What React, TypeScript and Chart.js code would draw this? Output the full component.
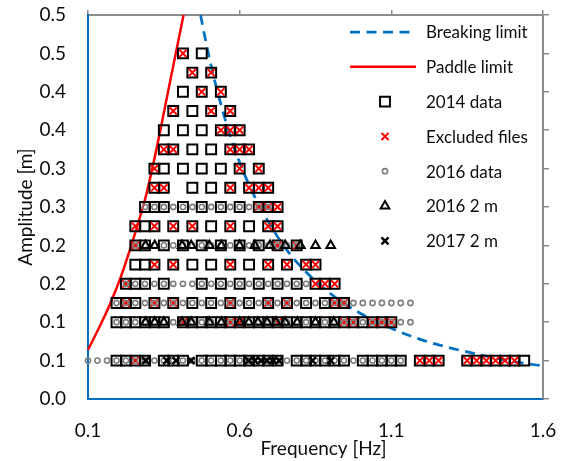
import { useEffect, useRef } from 'react';
import { Chart, registerables } from 'chart.js';

Chart.register(...registerables);

// ---- text ----
const X_TITLE = 'Frequency [Hz]';
const Y_TITLE = 'Amplitude [m]';
const xTickLabels = ['0.1', '0.6', '1.1', '1.6'];
const yTickLabels = ['0.0', '0.1', '0.1', '0.2', '0.2', '0.3', '0.3', '0.4', '0.4', '0.5', '0.5'];

// ---- limit curves: frequency [Hz] vs amplitude [m] ----
const breakingFreq = [0.471, 0.5, 0.55, 0.6, 0.65, 0.7, 0.75, 0.8, 0.9, 1.0, 1.1, 1.2, 1.3, 1.4, 1.5, 1.6];
const breakingAmp = [0.5, 0.444, 0.367, 0.308, 0.263, 0.227, 0.197, 0.173, 0.137, 0.111, 0.092, 0.077, 0.066, 0.057, 0.049, 0.043];

const paddleFreq = [0.1, 0.138, 0.171, 0.21, 0.253, 0.292, 0.325, 0.37, 0.415];
const paddleAmp = [0.064, 0.094, 0.122, 0.161, 0.213, 0.266, 0.324, 0.412, 0.5];

// ---- test runs: [amplitude m, frequencies Hz] ----
const runs2014: [number, number[]][] = [
  [0.45, [0.413, 0.475]],
  [0.425, [0.444, 0.506]],
  [0.4, [0.413, 0.475, 0.538]],
  [0.375, [0.381, 0.444, 0.506, 0.569]],
  [0.35, [0.35, 0.413, 0.475, 0.538, 0.569, 0.6]],
  [0.325, [0.35, 0.381, 0.444, 0.506, 0.569, 0.6, 0.631]],
  [0.3, [0.319, 0.35, 0.413, 0.475, 0.538, 0.6, 0.663]],
  [0.275, [0.319, 0.35, 0.444, 0.506, 0.569, 0.631, 0.663, 0.694]],
  [0.25, [0.288, 0.319, 0.35, 0.413, 0.475, 0.538, 0.6, 0.663, 0.694, 0.725]],
  [0.225, [0.256, 0.288, 0.319, 0.381, 0.444, 0.506, 0.569, 0.631, 0.694, 0.725]],
  [0.2, [0.256, 0.288, 0.35, 0.413, 0.475, 0.538, 0.6, 0.663, 0.725, 0.788]],
  [0.175, [0.256, 0.288, 0.319, 0.381, 0.444, 0.506, 0.569, 0.631, 0.694, 0.756, 0.819, 0.85]],
  [0.15, [0.225, 0.256, 0.288, 0.35, 0.475, 0.538, 0.6, 0.663, 0.725, 0.788, 0.85, 0.881, 0.913]],
  [0.125, [0.194, 0.225, 0.256, 0.319, 0.381, 0.444, 0.506, 0.569, 0.631, 0.694, 0.756, 0.819, 0.881, 0.913, 0.944]],
  [0.1, [0.194, 0.225, 0.256, 0.288, 0.319, 0.35, 0.413, 0.444, 0.475, 0.506, 0.538, 0.569, 0.6, 0.631, 0.663, 0.694,
    0.725, 0.756, 0.788, 0.819, 0.85, 0.881, 0.913, 0.944, 0.975, 1.006, 1.038, 1.069, 1.1]],
  [0.05, [0.194, 0.225, 0.256, 0.288, 0.35, 0.381, 0.413, 0.475, 0.506, 0.538, 0.569, 0.6, 0.631, 0.663, 0.694, 0.725,
    0.788, 0.819, 0.85, 0.881, 0.913, 0.944, 1.006, 1.038, 1.069, 1.1, 1.131, 1.194, 1.225, 1.256,
    1.35, 1.381, 1.413, 1.444, 1.475, 1.506, 1.538]],
];

const excludedRuns: [number, number[]][] = [
  [0.45, [0.413]],
  [0.425, [0.444, 0.506]],
  [0.4, [0.475, 0.538]],
  [0.375, [0.381, 0.506, 0.569]],
  [0.35, [0.538, 0.569, 0.6]],
  [0.325, [0.35, 0.381, 0.569, 0.6, 0.631]],
  [0.3, [0.319, 0.6, 0.663]],
  [0.275, [0.319, 0.35, 0.569, 0.631, 0.663, 0.694]],
  [0.25, [0.663, 0.694, 0.725]],
  [0.225, [0.256, 0.319, 0.381, 0.444, 0.569, 0.694, 0.725]],
  [0.2, [0.256, 0.725, 0.788]],
  [0.175, [0.319, 0.381, 0.569, 0.694, 0.756, 0.819, 0.85]],
  [0.15, [0.225, 0.85, 0.881, 0.913]],
  [0.125, [0.225, 0.319, 0.381, 0.569, 0.694, 0.756, 0.913, 0.944]],
  [0.1, [0.413, 0.569, 0.6, 0.725, 0.944, 0.975, 1.038, 1.069, 1.1]],
  [0.05, [0.256, 1.194, 1.225, 1.256, 1.35, 1.381, 1.413, 1.444, 1.475, 1.506]],
];

const runs2016: [number, number[]][] = [
  [0.25, [0.288, 0.319, 0.35, 0.381, 0.413, 0.444, 0.475, 0.506, 0.538, 0.569, 0.6, 0.631, 0.663, 0.694]],
  [0.2, [0.256, 0.288, 0.319, 0.35, 0.381, 0.413, 0.444, 0.475, 0.506, 0.538, 0.569, 0.6, 0.631, 0.663, 0.694,
    0.725, 0.756, 0.788]],
  [0.15, [0.225, 0.256, 0.288, 0.319, 0.35, 0.381, 0.413, 0.444, 0.475, 0.506, 0.538, 0.569, 0.6, 0.631, 0.663,
    0.694, 0.725, 0.756, 0.788, 0.819]],
  [0.125, [0.194, 0.225, 0.256, 0.288, 0.319, 0.35, 0.381, 0.413, 0.444, 0.475, 0.506, 0.538, 0.569, 0.6, 0.631,
    0.663, 0.694, 0.725, 0.756, 0.788, 0.819, 0.85, 0.881, 0.913, 0.944, 0.975, 1.006, 1.038, 1.069, 1.1, 1.131, 1.163]],
  [0.1, [0.194, 0.225, 0.256, 0.288, 0.319, 0.35, 0.381, 0.413, 0.444, 0.475, 0.506, 0.538, 0.569, 0.6, 0.631,
    0.663, 0.694, 0.725, 0.756, 0.788, 0.819, 0.85, 0.881, 0.913, 0.944, 0.975, 1.006, 1.038, 1.069, 1.1, 1.131, 1.163]],
  [0.05, [0.1, 0.131, 0.163, 0.194, 0.225, 0.256, 0.288, 0.319, 0.35, 0.381, 0.413, 0.444, 0.475, 0.506, 0.538,
    0.569, 0.6, 0.631, 0.663, 0.694, 0.725, 0.756, 0.788, 0.819, 0.85, 0.881, 0.913, 0.944, 0.975, 1.006, 1.038,
    1.069, 1.1, 1.131]],
];

const runs2016TwoMetre: [number, number[]][] = [
  [0.2, [0.29, 0.32, 0.41, 0.44, 0.5, 0.54, 0.6, 0.65, 0.7, 0.75, 0.8, 0.85, 0.9]],
  [0.1, [0.29, 0.32, 0.35, 0.41, 0.44, 0.5, 0.54, 0.6, 0.63, 0.66, 0.69, 0.72, 0.75, 0.79, 0.85, 0.91]],
];

const runs2017TwoMetre: [number, number[]][] = [
  [0.05, [0.29, 0.36, 0.39, 0.44, 0.63, 0.65, 0.67, 0.69, 0.71, 0.73, 0.84, 0.9]],
];

// ---- styling ----
const BLUE = '#0070C0';
const RED = '#FF0000';
const AXIS_GREY = '#8C8C8C';
const TEXT = '#0d0d0d';
const FONT_FAMILY = 'Lato, "Open Sans", "DejaVu Sans", sans-serif';
const AXIS_FONT_SIZE = 19;
const LEGEND_FONT_SIZE = 17;

const toPoints = (rows: [number, number[]][]) =>
  rows.flatMap(([amp, freqs]) => freqs.map((f) => ({ x: f, y: amp })));
const toCurve = (xs: number[], ys: number[]) => xs.map((x, i) => ({ x, y: ys[i] }));

// Fix a scale's thickness and stop its labels from pushing the plot area inwards.
const fixSize = (prop: 'width' | 'height', size: number) => (s: any) => {
  s[prop] = size;
  s.paddingTop = 0;
  s.paddingBottom = 0;
  s.paddingLeft = 0;
  s.paddingRight = 0;
};

function strokeMarker(ctx: CanvasRenderingContext2D, style: string, x: number, y: number, r: number) {
  ctx.beginPath();
  if (style === 'rect') {
    const h = r * Math.SQRT1_2;
    ctx.rect(x - h, y - h, 2 * h, 2 * h);
  } else if (style === 'crossRot') {
    const h = r * Math.SQRT1_2;
    ctx.moveTo(x - h, y - h);
    ctx.lineTo(x + h, y + h);
    ctx.moveTo(x - h, y + h);
    ctx.lineTo(x + h, y - h);
  } else if (style === 'circle') {
    ctx.arc(x, y, r, 0, Math.PI * 2);
  } else if (style === 'triangle') {
    const a = (2 * Math.PI) / 3;
    ctx.moveTo(x, y - r);
    ctx.lineTo(x + Math.sin(a) * r, y - Math.cos(a) * r);
    ctx.lineTo(x + Math.sin(2 * a) * r, y - Math.cos(2 * a) * r);
    ctx.closePath();
  }
  ctx.stroke();
}

// Legend sits inside the plot, in its upper-right corner.
const legendPlugin = {
  id: 'insideLegend',
  afterDraw(chart: any) {
    const ctx: CanvasRenderingContext2D = chart.ctx;
    const lineStart = 350;
    const lineEnd = 416;
    const markerX = 385;
    const textX = 426;
    const top = 32;
    const rowGap = 34.8;
    ctx.save();
    ctx.font = `${LEGEND_FONT_SIZE}px ${FONT_FAMILY}`;
    ctx.textBaseline = 'middle';
    ctx.textAlign = 'left';
    chart.data.datasets.forEach((ds: any, i: number) => {
      const y = top + i * rowGap;
      ctx.strokeStyle = ds.borderColor;
      ctx.lineWidth = ds.borderWidth;
      if (ds.showLine) {
        ctx.setLineDash(ds.borderDash || []);
        ctx.beginPath();
        ctx.moveTo(lineStart, y);
        ctx.lineTo(lineEnd, y);
        ctx.stroke();
        ctx.setLineDash([]);
      } else {
        strokeMarker(ctx, ds.pointStyle, markerX, y, ds.pointRadius);
      }
      ctx.fillStyle = TEXT;
      ctx.fillText(ds.label, textX, y + 1);
    });
    ctx.restore();
  },
};

const axisTitlePlugin = {
  id: 'axisTitles',
  afterDraw(chart: any) {
    const ctx: CanvasRenderingContext2D = chart.ctx;
    const area = chart.chartArea;
    ctx.save();
    ctx.font = `${AXIS_FONT_SIZE}px ${FONT_FAMILY}`;
    ctx.fillStyle = TEXT;
    ctx.textAlign = 'center';
    ctx.textBaseline = 'middle';
    ctx.fillText(X_TITLE, (area.left + area.right) / 2 + 8, 449);
    ctx.translate(26, (area.top + area.bottom) / 2);
    ctx.rotate(-Math.PI / 2);
    ctx.fillText(Y_TITLE, 0, 0);
    ctx.restore();
  },
};

export default function App() {
  const canvasRef = useRef<HTMLCanvasElement | null>(null);

  useEffect(() => {
    const canvas = canvasRef.current;
    if (!canvas) return;
    const font = { family: FONT_FAMILY, size: AXIS_FONT_SIZE };

    const pointSet = (label: string, rows: [number, number[]][], style: string, radius: number,
      color: string, width: number, order: number) => ({
      label,
      data: toPoints(rows),
      showLine: false,
      pointStyle: style,
      pointRadius: radius,
      pointHoverRadius: radius,
      borderColor: color,
      backgroundColor: 'rgba(0,0,0,0)',
      borderWidth: width,
      clip: false as const,
      order,
    });

    const chart = new Chart(canvas, {
      type: 'scatter',
      data: {
        datasets: [
          {
            label: 'Breaking limit',
            data: toCurve(breakingFreq, breakingAmp),
            showLine: true,
            borderColor: BLUE,
            backgroundColor: BLUE,
            borderWidth: 2.75,
            borderDash: [10, 6.5],
            pointRadius: 0,
            cubicInterpolationMode: 'monotone',
            clip: 2,
            order: 7,
          } as any,
          {
            label: 'Paddle limit',
            data: toCurve(paddleFreq, paddleAmp),
            showLine: true,
            borderColor: RED,
            backgroundColor: RED,
            borderWidth: 2.5,
            pointRadius: 0,
            cubicInterpolationMode: 'monotone',
            clip: 2,
            order: 6,
          } as any,
          pointSet('2014 data', runs2014, 'rect', 7, '#000000', 2, 5),
          pointSet('Excluded files', excludedRuns, 'crossRot', 5, RED, 2, 4),
          pointSet('2016 data', runs2016, 'circle', 2.6, '#7F7F7F', 1.6, 3),
          pointSet('2016 2 m', runs2016TwoMetre, 'triangle', 5, '#000000', 2, 2),
          pointSet('2017 2 m', runs2017TwoMetre, 'crossRot', 5, '#000000', 2.5, 1),
        ] as any,
      },
      options: {
        animation: false,
        responsive: false,
        maintainAspectRatio: false,
        devicePixelRatio: 1,
        events: [],
        layout: { padding: 0, autoPadding: false },
        plugins: {
          legend: { display: false },
          tooltip: { enabled: false },
        },
        scales: {
          x: {
            type: 'linear',
            position: 'bottom',
            min: 0.1,
            max: 1.6,
            afterFit: fixSize('height', 62),
            ticks: {
              stepSize: 0.5,
              padding: 20,
              color: TEXT,
              font,
              autoSkip: false,
              maxRotation: 0,
              callback: (_v: any, i: number) => xTickLabels[i] ?? '',
            },
            grid: { display: false, drawTicks: false },
            border: { display: true, color: BLUE, width: 2 },
          },
          xTop: {
            type: 'linear',
            position: 'top',
            min: 0.1,
            max: 1.6,
            afterFit: fixSize('height', 15),
            ticks: { display: false, stepSize: 0.5 },
            grid: { display: true, drawOnChartArea: false, drawTicks: true, tickLength: 5, color: AXIS_GREY, lineWidth: 1.5 },
            border: { display: true, color: AXIS_GREY, width: 2 },
          },
          y: {
            type: 'linear',
            position: 'left',
            min: 0,
            max: 0.5,
            afterFit: fixSize('width', 88),
            ticks: {
              stepSize: 0.05,
              padding: 22,
              color: TEXT,
              font,
              autoSkip: false,
              callback: (_v: any, i: number) => yTickLabels[i] ?? '',
            },
            grid: { display: false, drawTicks: false },
            border: { display: true, color: BLUE, width: 2 },
          },
          yRight: {
            type: 'linear',
            position: 'right',
            min: 0,
            max: 0.5,
            afterFit: fixSize('width', 20),
            ticks: { display: false, stepSize: 0.05 },
            grid: { display: true, drawOnChartArea: false, drawTicks: true, tickLength: 6, color: AXIS_GREY, lineWidth: 1.5 },
            border: { display: true, color: AXIS_GREY, width: 2 },
          },
        } as any,
      },
      plugins: [legendPlugin, axisTitlePlugin],
    });

    return () => chart.destroy();
  }, []);

  return (
    <div style={{ position: 'fixed', left: 0, top: 0, width: 563, height: 461, background: '#ffffff' }}>
      <canvas ref={canvasRef} width={563} height={461} style={{ display: 'block' }} />
    </div>
  );
}
